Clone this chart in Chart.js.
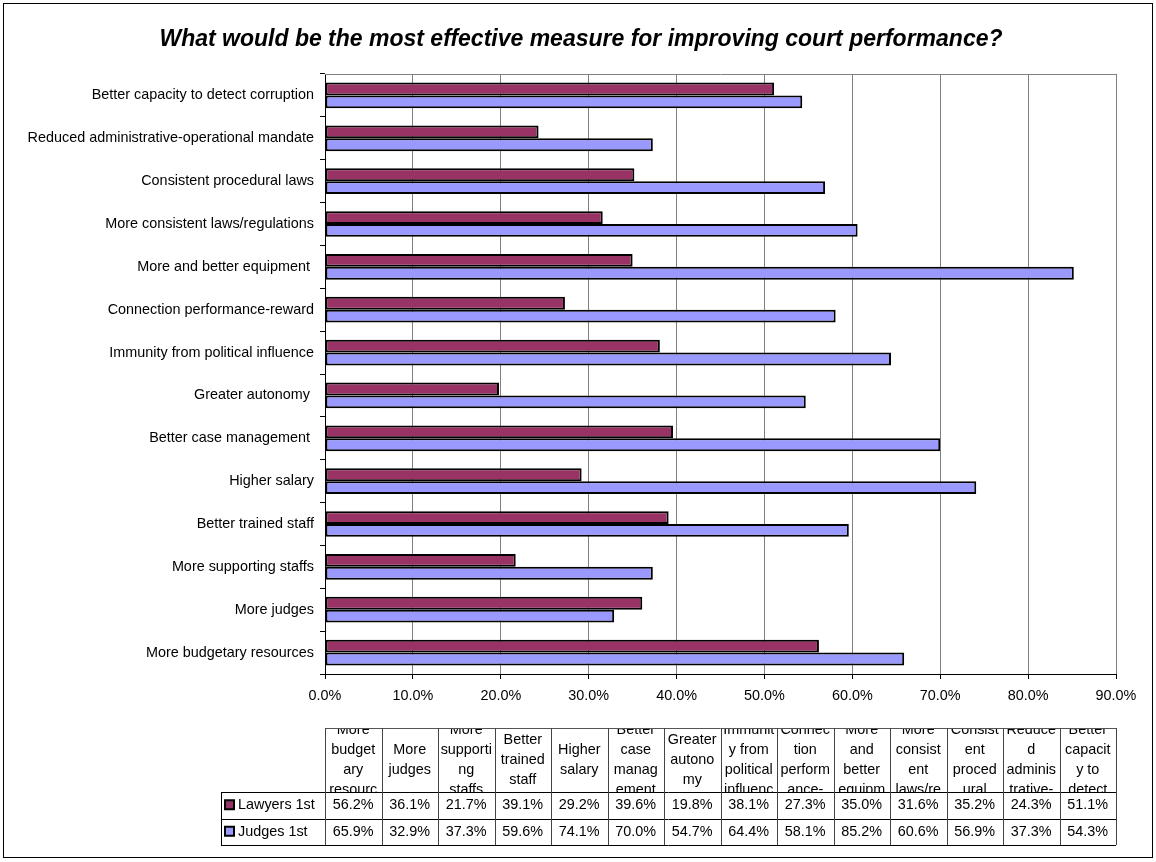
<!DOCTYPE html>
<html><head><meta charset="utf-8">
<script src="https://cdn.jsdelivr.net/npm/chart.js@4.4.0/dist/chart.umd.min.js"></script>
<style>html,body{margin:0;padding:0;background:#fff}canvas{display:block}</style>
</head><body>
<canvas id="c" width="1156" height="862"></canvas>
<script>
const chartTitle = 'What would be the most effective measure for improving court performance?';
const categories = ['More budgetary resources','More judges','More supporting staffs','Better trained staff','Higher salary','Better case management ','Greater autonomy ','Immunity from political influence','Connection performance-reward','More and better equipment ','More consistent laws/regulations','Consistent procedural laws','Reduced administrative-operational mandate','Better capacity to detect corruption'];
const seriesNames = ['Lawyers 1st','Judges 1st'];
const lawyers = [56.2,36.1,21.7,39.1,29.2,39.6,19.8,38.1,27.3,35.0,31.6,35.2,24.3,51.1];
const judges = [65.9,32.9,37.3,59.6,74.1,70.0,54.7,64.4,58.1,85.2,60.6,56.9,37.3,54.3];
const seriesColors = ['#993366','#9999FF'];
const xMin = 0, xMax = 90, xStep = 10;

const FONT = '"Liberation Sans", Arial, sans-serif';
const FS = 14.4;
const fmt = v => v.toFixed(1) + '%';

// Excel-like wrapping: break at spaces, after hyphens, then by characters
function wrap(ctx, text, maxW) {
  const tokens = [];
  text.split(' ').forEach((w, wi) => {
    const parts = w.split(/(?<=-)/);
    parts.forEach((p, pi) => tokens.push({ t: p, sp: wi > 0 && pi === 0 }));
  });
  const lines = [];
  let cur = '';
  const fits = s => ctx.measureText(s).width <= maxW;
  for (const tk of tokens) {
    const test = cur ? cur + (tk.sp ? ' ' : '') + tk.t : tk.t;
    if (fits(test)) { cur = test; continue; }
    if (cur) { lines.push(cur); cur = ''; }
    if (fits(tk.t)) { cur = tk.t; continue; }
    let piece = '';
    for (const ch of tk.t) {
      if (!fits(piece + ch) && piece) { lines.push(piece); piece = ch; }
      else piece += ch;
    }
    cur = piece;
  }
  if (cur) lines.push(cur);
  return lines;
}

const decor = {
  id: 'decor',
  afterDraw(chart) {
    const ctx = chart.ctx, ca = chart.chartArea;
    ctx.save();
    // outer border
    ctx.strokeStyle = '#000'; ctx.lineWidth = 1;
    ctx.strokeRect(3.5, 3.5, 1149, 854);
    // plot top border
    ctx.strokeStyle = '#808080';
    ctx.beginPath(); ctx.moveTo(ca.left, Math.round(ca.top) + 0.5); ctx.lineTo(ca.right, Math.round(ca.top) + 0.5); ctx.stroke();
    // title
    ctx.fillStyle = '#000';
    ctx.font = 'italic bold 23px ' + FONT;
    ctx.textAlign = 'center'; ctx.textBaseline = 'alphabetic';
    ctx.fillText(chartTitle, 581, 46);

    // data table
    ctx.textBaseline = 'middle';
    const n = categories.length;
    const colW = (ca.right - ca.left) / n;
    const tTop = 728, hH = 64, rH = 26.5;
    const legL = ca.left - 104;
    ctx.font = FS + 'px ' + FONT;
    for (let i = 0; i < n; i++) {
      const x0 = ca.left + i * colW;
      const lines = wrap(ctx, categories[i].trim(), colW - 5).slice(0, 4);
      ctx.save();
      ctx.beginPath(); ctx.rect(x0, tTop, colW, hH); ctx.clip();
      const lh = 20;
      const y0 = tTop + hH / 2 - (lines.length - 1) * lh / 2;
      lines.forEach((ln, k) => ctx.fillText(ln, x0 + colW / 2, y0 + k * lh));
      ctx.restore();
    }
    const series = [lawyers, judges];
    series.forEach((arr, r) => {
      const yc = tTop + hH + r * rH + rH / 2;
      ctx.fillStyle = '#000';
      ctx.textAlign = 'center';
      for (let i = 0; i < n; i++) {
        ctx.fillText(fmt(arr[i]), ca.left + i * colW + colW / 2, yc);
      }
      // legend key
      ctx.fillStyle = seriesColors[r];
      ctx.fillRect(legL + 4, yc - 5, 9, 9);
      ctx.strokeStyle = '#000'; ctx.lineWidth = 2;
      ctx.strokeRect(legL + 4, yc - 5, 9, 9);
      ctx.fillStyle = '#000';
      ctx.textAlign = 'left';
      ctx.fillText(seriesNames[r], legL + 17, yc);
    });
    // lines
    ctx.lineWidth = 1;
    const hl = (x1, x2, y) => { ctx.beginPath(); ctx.moveTo(x1, Math.round(y) + 0.5); ctx.lineTo(x2, Math.round(y) + 0.5); ctx.stroke(); };
    const vl = (x, y1, y2) => { ctx.beginPath(); ctx.moveTo(Math.round(x) + 0.5, y1); ctx.lineTo(Math.round(x) + 0.5, y2); ctx.stroke(); };
    const bottom = tTop + hH + 2 * rH;
    ctx.strokeStyle = '#555';
    hl(ca.left, ca.right, tTop);
    ctx.strokeStyle = '#000';
    hl(legL, ca.right, tTop + hH);
    hl(legL, ca.right, tTop + hH + rH);
    hl(legL, ca.right, bottom);
    vl(legL, tTop + hH, bottom);
    ctx.strokeStyle = '#444';
    for (let i = 0; i <= n; i++) vl(ca.left + i * colW, tTop, bottom);
    ctx.restore();
  }
};

new Chart(document.getElementById('c'), {
  type: 'bar',
  data: {
    labels: categories,
    datasets: [
      { label: seriesNames[0], data: lawyers, backgroundColor: seriesColors[0], borderColor: '#000', borderWidth: 2, borderSkipped: false },
      { label: seriesNames[1], data: judges, backgroundColor: seriesColors[1], borderColor: '#000', borderWidth: 2, borderSkipped: false }
    ]
  },
  options: {
    indexAxis: 'y',
    responsive: false,
    animation: false,
    devicePixelRatio: 1,
    layout: { padding: { left: 0, right: 40, top: 74, bottom: 148 } },
    datasets: { bar: { categoryPercentage: 0.6, barPercentage: 1.0 } },
    plugins: { legend: { display: false }, title: { display: false }, tooltip: { enabled: false } },
    scales: {
      x: {
        min: xMin, max: xMax,
        ticks: { stepSize: xStep, callback: v => fmt(v), color: '#000', font: { family: FONT, size: FS }, padding: 8, maxRotation: 0 },
        grid: { color: '#808080', tickColor: '#000', tickLength: 5, lineWidth: 1 },
        border: { color: '#000', width: 1 },
        afterFit: s => { s.height = 40; }
      },
      y: {
        reverse: true,
        ticks: { color: '#000', font: { family: FONT, size: FS }, padding: 6 },
        grid: { drawOnChartArea: false, tickColor: '#000', tickLength: 5, offset: true },
        border: { color: '#000', width: 1 },
        afterFit: s => { s.width = 325; }
      }
    }
  },
  plugins: [decor]
});
</script>
</body></html>
